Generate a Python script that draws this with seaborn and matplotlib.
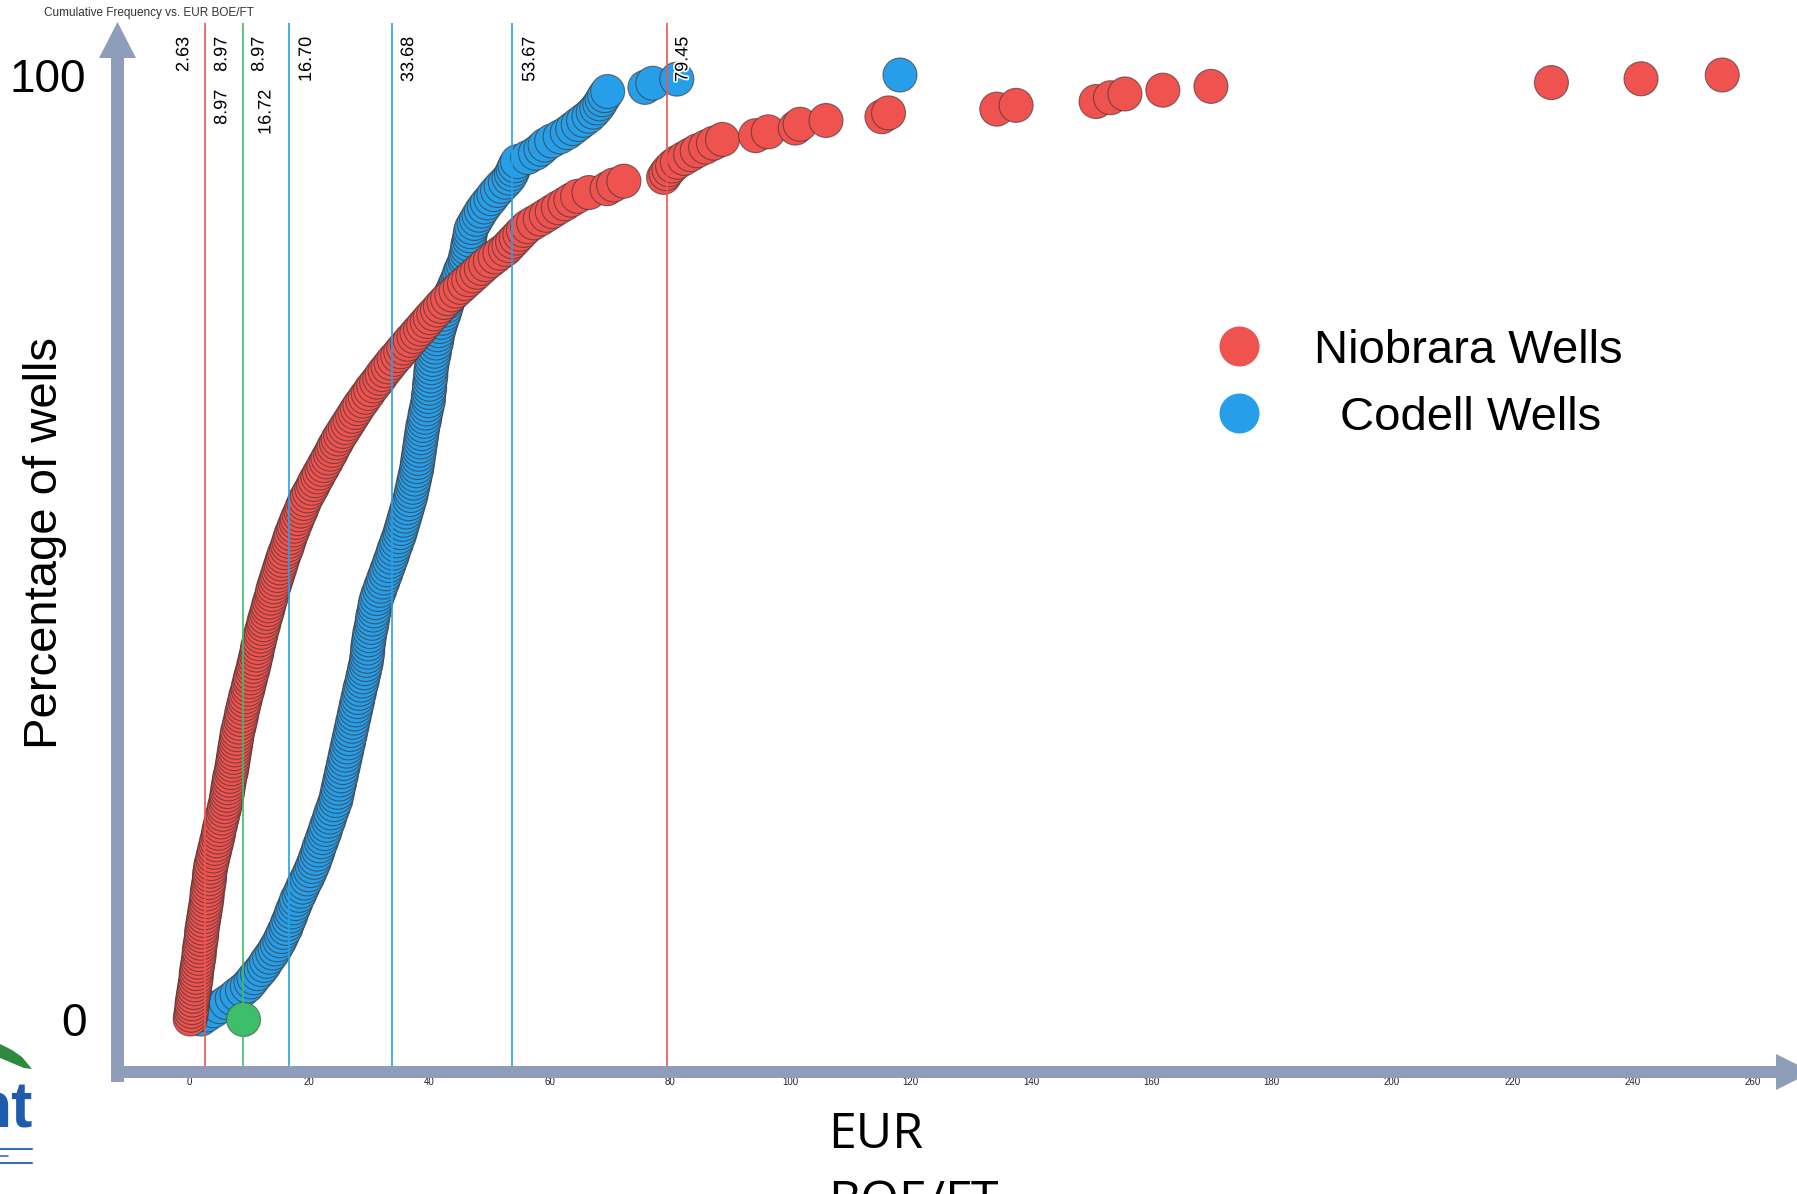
import numpy as np
import pandas as pd
import matplotlib
matplotlib.use("Agg")
import matplotlib.pyplot as plt
import matplotlib.transforms as mtransforms
import matplotlib.patheffects as pe
from matplotlib.patches import Polygon
from matplotlib.lines import Line2D
import seaborn as sns

# EUR BOE/FT per well, sorted ascending
niobrara_eur = [
    0.2, 0.3, 0.4, 0.5, 0.5, 0.6, 0.7, 0.8, 0.9, 1.0, 1.1, 1.2, 1.2, 1.3,
    1.4, 1.5, 1.6, 1.7, 1.7, 1.8, 1.9, 2.0, 2.1,
    2.1, 2.2, 2.3, 2.4, 2.5, 2.6, 2.7, 2.8, 2.9,
    3.0, 3.0, 3.1, 3.2, 3.3, 3.4, 3.4, 3.5, 3.6,
    3.7, 3.9, 4.0, 4.2, 4.3, 4.5, 4.6, 4.8, 4.9,
    5.0, 5.2, 5.3, 5.5, 5.6, 5.8, 5.9, 6.1,
    6.2, 6.3, 6.4, 6.5, 6.6, 6.7, 6.8, 7.0, 7.1,
    7.2, 7.3, 7.4, 7.5, 7.6, 7.7, 7.8, 7.9, 8.0,
    8.1, 8.3, 8.4, 8.6, 8.7, 8.8, 9.0, 9.1, 9.3,
    9.4, 9.6, 9.8, 9.9, 10.1, 10.2, 10.4, 10.6,
    10.7, 10.9, 11.0, 11.2, 11.3, 11.4, 11.6, 11.7, 11.9,
    12.0, 12.2, 12.4, 12.5, 12.7, 12.9, 13.1, 13.2, 13.4,
    13.6, 13.8, 13.9, 14.1, 14.3, 14.5, 14.7, 14.9, 15.1,
    15.3, 15.5, 15.7, 15.9, 16.2, 16.4, 16.6, 16.8, 17.0,
    17.3, 17.5, 17.8, 18.0, 18.3, 18.6, 18.8, 19.1,
    19.3, 19.7, 20.0, 20.4, 20.7, 21.0, 21.4, 21.7, 22.1,
    22.4, 22.8, 23.1, 23.5, 23.8, 24.1, 24.5, 24.8, 25.2,
    25.6, 26.0, 26.4, 26.8, 27.2, 27.6, 28.0, 28.4, 28.9,
    29.3, 29.8, 30.2, 30.7, 31.2, 31.7, 32.1, 32.6, 33.1,
    33.6, 34.1, 34.7, 35.2, 35.7, 36.3, 36.8, 37.4, 37.9,
    38.5, 39.0, 39.6, 40.1, 40.7, 41.3, 41.8, 42.4,
    43.0, 43.7, 44.4, 45.1, 45.8, 46.5, 47.2, 47.9, 48.6,
    49.3, 50.1, 50.9, 51.7,
    52.6, 53.2, 53.8, 54.4, 55.0, 55.6,
    56.3, 57.3, 58.4, 59.4, 60.4,
    61.4, 62.5, 63.5, 64.6,
    66.5, 69.5, 70.6, 72.3,
    78.9, 79.3, 79.8, 80.4, 81.2, 82.3, 83.4, 84.5, 85.9, 87.2, 88.7,
    94.2, 96.3, 100.8, 101.6, 105.9, 115.2, 116.3, 134.3, 137.5,
    150.8, 153.2, 155.6, 161.9, 169.9, 226.5, 241.4, 254.9,
]

codell_eur = [
    2.0, 3.0, 4.1, 5.1, 6.2,
    7.2, 8.0, 8.9,
    9.7, 10.3, 10.8, 11.4, 12.0,
    12.5, 12.9, 13.4, 13.9, 14.3,
    14.7, 15.1, 15.4, 15.7, 16.1,
    16.3, 16.6, 16.9, 17.1, 17.4, 17.7,
    17.9, 18.3, 18.6, 18.9, 19.2, 19.6, 19.9, 20.2,
    20.5, 20.8, 21.0, 21.3, 21.5, 21.7, 22.0, 22.2, 22.5, 22.7, 22.9,
    23.2, 23.4, 23.6, 23.9, 24.1, 24.4,
    24.5, 24.7, 24.8, 25.0, 25.1, 25.3, 25.4, 25.6, 25.7, 25.9, 26.0,
    26.2, 26.3, 26.5, 26.6, 26.8,
    26.9, 27.1, 27.2, 27.4, 27.5, 27.7, 27.8, 28.0, 28.1, 28.3, 28.4,
    28.6, 28.8, 28.9, 29.1, 29.2,
    29.4, 29.5, 29.6, 29.7, 29.7, 29.8, 29.9, 30.0,
    30.1, 30.3, 30.4, 30.5, 30.6, 30.8, 30.9, 31.0,
    31.2, 31.4, 31.7, 31.9, 32.2, 32.4, 32.7, 32.9,
    33.2, 33.4, 33.7, 33.9, 34.1, 34.4, 34.6, 34.9,
    35.1, 35.3, 35.5, 35.7, 35.9, 36.1, 36.3, 36.5,
    36.7, 36.9, 37.0, 37.2, 37.3, 37.5, 37.6, 37.8,
    37.9, 38.0, 38.1, 38.2, 38.3, 38.4, 38.5, 38.6, 38.7,
    38.8, 38.9, 39.1, 39.2, 39.3, 39.5, 39.6, 39.8,
    39.8, 39.9, 40.0, 40.0, 40.1, 40.2, 40.2, 40.3,
    40.4, 40.5, 40.7, 40.8, 40.9, 41.1, 41.2, 41.3,
    41.5, 41.7, 41.9, 42.1, 42.4, 42.6, 42.8, 43.0,
    43.3, 43.6, 43.9, 44.2, 44.5, 44.8, 45.0, 45.3, 45.6, 45.9,
    46.0, 46.2, 46.3, 46.4, 46.6, 46.7, 46.8, 47.0,
    47.4, 47.8, 48.2, 48.6,
    49.1, 49.6, 50.2, 50.7,
    51.3, 51.9, 52.6, 53.2,
    53.6, 53.9, 54.2, 54.6, 56.3, 57.6, 58.5, 59.2, 60.3, 61.7, 62.9,
    63.8, 64.7, 65.6, 66.5, 67.2, 67.8, 68.3, 68.7, 69.1, 69.6,
    75.8, 77.1, 81.1, 118.2,
]

series_names = ["Niobrara Wells", "Codell Wells"]
series_colors = ["#EF5350", "#279FE8"]
marker_eur = [8.97]
marker_pct = [0]
marker_color = "#3EBD6B"

# reference lines and their labels
line_values = [2.63, 8.97, 16.70, 33.68, 53.67, 79.45]
line_colors = ["#EF5350", "#3EBD6B", "#279FE8", "#279FE8", "#279FE8", "#EF5350"]
label_texts = ["2.63", "8.97", "8.97", "8.97", "16.72", "16.70", "33.68", "53.67", "79.45"]
label_anchor = [2.63, 2.63, 2.63, 8.97, 8.97, 16.70, 33.68, 53.67, 79.45]
label_row = [0, 0, 1, 0, 1, 0, 0, 0, 0]

x_ticks = list(range(0, 261, 20))
y_ticks = [0, 100]

title = "Cumulative Frequency vs. EUR BOE/FT"
x_label = "EUR\nBOE/FT"
y_label = "Percentage of wells"


def cum_pct(values):
    n = len(values)
    return np.arange(n) / (n - 1) * 100


df = pd.concat([
    pd.DataFrame({"eur": codell_eur, "pct": cum_pct(codell_eur), "formation": series_names[1]}),
    pd.DataFrame({"eur": niobrara_eur, "pct": cum_pct(niobrara_eur), "formation": series_names[0]}),
], ignore_index=True)

sns.set_theme(style="white")
plt.rcParams["font.family"] = ["Liberation Sans", "DejaVu Sans"]

W, H = 1797, 1194
fig = plt.figure(figsize=(W / 100, H / 100), dpi=100)
# helper: figure pixels measured from the top-left corner
px = mtransforms.Affine2D().scale(1 / W, -1 / H).translate(0, 1) + fig.transFigure

ax_l, ax_r, ax_t, ax_b = 117, W, 23, 1072
ax = fig.add_axes([ax_l / W, (H - ax_b) / H, (ax_r - ax_l) / W, (ax_b - ax_t) / H])
ax.set_facecolor("none")

palette = dict(zip(series_names, series_colors))
sns.scatterplot(data=df, x="eur", y="pct", hue="formation", palette=palette,
                s=600, edgecolor=(0.25, 0.2, 0.2, 0.65), linewidth=0.8,
                legend=False, ax=ax, zorder=2, clip_on=False)
sns.scatterplot(x=marker_eur, y=marker_pct, color=marker_color, s=600,
                edgecolor=(0.2, 0.3, 0.2, 0.6), linewidth=0.8, ax=ax, zorder=2.5)

for v, c in zip(line_values, line_colors):
    ax.axvline(v, color=c, lw=1.2, zorder=3)

label_dx = [-21, 17, 17, 16, 23, 17, 17, 18, 16]
row_y = [(ax_b - 37) / (ax_b - ax_t), (ax_b - 90) / (ax_b - ax_t)]
for txt, anc, dx, row in zip(label_texts, label_anchor, label_dx, label_row):
    ax.annotate(txt, xy=(anc, row_y[row]), xycoords=("data", "axes fraction"),
                xytext=(dx, 0), textcoords="offset pixels", rotation=90,
                ha="center", va="top", fontsize=13, color="black", zorder=5,
                path_effects=[pe.withStroke(linewidth=2.5, foreground="white")])

# x: 0 at px 189, 6.015 px per unit; y: 0 at px 1019, 9.44 px per unit
ax.set_xlim((ax_l - 189) / 6.015, (ax_r - 189) / 6.015)
ax.set_ylim((1019 - ax_b) / 9.44, (1019 - ax_t) / 9.44)
ax.set_xticks(x_ticks)
ax.set_yticks(y_ticks)
ax.set_xticklabels([str(t) for t in x_ticks])
ax.set_yticklabels([str(t) for t in y_ticks])
ax.tick_params(axis="x", length=0, pad=3.5, labelsize=7, labelcolor="#222222")
ax.tick_params(axis="y", length=0, pad=22, labelsize=33, labelcolor="black")
ax.set_xlabel("")
ax.set_ylabel(y_label, fontsize=34, va="center", color="black")
ax.yaxis.set_label_coords((45 - ax_l) / (ax_r - ax_l), (ax_b - 543) / (ax_b - ax_t))
sns.despine(ax=ax, left=True, bottom=True)

# arrow-shaped axes
axis_color = "#8E9DBA"
fig.add_artist(Polygon([(111, 1066), (1776, 1066), (1776, 1054), (1812, 1072),
                        (1776, 1090), (1776, 1078), (111, 1078)],
                       closed=True, transform=px, facecolor=axis_color, lw=0, zorder=1))
fig.add_artist(Polygon([(111, 1082), (111, 58), (99, 58), (117.5, 22), (136, 58),
                        (124, 58), (124, 1082)],
                       closed=True, transform=px, facecolor=axis_color, lw=0, zorder=1))

# legend
leg_y = [346, 413]
leg_base = [363, 430]
leg_x = [1468, 1471]
for name, col, ly, lb, lx in zip(series_names, series_colors, leg_y, leg_base, leg_x):
    ax.scatter([(1239 - ax_l) / (ax_r - ax_l)], [(ax_b - ly) / (ax_b - ax_t)],
               s=830, color=col, linewidth=0, transform=ax.transAxes, clip_on=False, zorder=4)
    fig.text(lx / W, 1 - lb / H, name, fontsize=34, ha="center", va="baseline", color="black")

fig.text(44 / W, 1 - 12.6 / H, title, fontsize=8.5, ha="left", va="center", color="#333333")
fig.text(828 / W, 1 - 1110 / H, x_label, fontsize=36, family=["Open Sans", "DejaVu Sans"],
         ha="left", va="top", linespacing=1.5, color="black")

# cropped logo at the lower left edge
fig.add_artist(Polygon([(0, 1044), (12, 1050), (22, 1057), (32, 1069), (24, 1068),
                        (12, 1063), (0, 1058)],
                       closed=True, transform=px, facecolor="#2E8B3E", lw=0))
fig.text(33 / W, 1 - 1127 / H, "nt", fontsize=46, fontweight="bold", color="#1F5CAB",
         ha="right", va="baseline")
fig.add_artist(Line2D([0, 32], [1149, 1149], transform=px, color="#3A6FB5", lw=1.5))
fig.add_artist(Line2D([0, 32], [1163, 1163], transform=px, color="#3A6FB5", lw=1.5))
fig.add_artist(Line2D([0, 8], [1156, 1156], transform=px, color="#3A6FB5", lw=1.2))

fig.savefig("out.png", dpi=100)
